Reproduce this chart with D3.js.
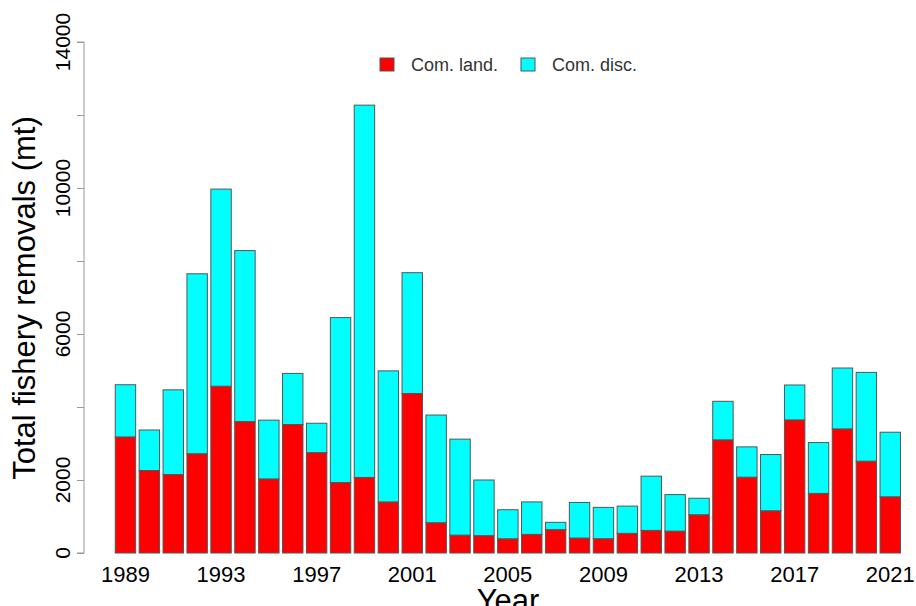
<!DOCTYPE html>
<html>
<head>
<meta charset="utf-8">
<script src="https://cdn.jsdelivr.net/npm/d3@7"></script>
<style>
  body { margin: 0; background: white; }
  text { font-family: "Liberation Sans", Arial, sans-serif; }
</style>
</head>
<body>
<div id="container"></div>
<script>
let w = 916;
let h = 606;

// years and the two series (mt)
let years = d3.range(1989, 2022);
let comLand = [3180, 2260, 2150, 2720, 4570, 3600, 2030, 3520, 2750, 1930, 2070,
  1400, 4370, 830, 490, 475, 390, 510, 640, 410, 392, 538, 620, 600, 1048,
  3100, 2078, 1157, 3646, 1632, 3400, 2516, 1540];
let comDisc = [1430, 1110, 2320, 4930, 5400, 4685, 1610, 1400, 805, 4520, 10200,
  3590, 3310, 2950, 2630, 1525, 795, 890, 200, 975, 858, 747, 1485, 1000, 452,
  1056, 830, 1541, 957, 1394, 1668, 2433, 1769];
let yTicks = [0, 2000, 4000, 6000, 8000, 10000, 12000, 14000];
let yLabels = [0, 2000, 6000, 10000, 14000];
let xLabels = [1989, 1993, 1997, 2001, 2005, 2009, 2013, 2017, 2021];
let seriesNames = ["Com. land.", "Com. disc."];
let seriesColors = ["#ff0000", "#00ffff"];

let rows = years.map(function(y, i){
  return { year: y, land: comLand[i], disc: comDisc[i] };
});

let viz = d3.select("#container").append("svg")
  .attr("width", w)
  .attr("height", h)
  .style("display", "block");

let xScale = d3.scaleBand()
  .domain(years)
  .range([113.5, 902.2])
  .paddingInner(0.146)
  .paddingOuter(0.073);

let yScale = d3.scaleLinear().domain([0, 14000]).range([553, 42]);

let stacked = d3.stack().keys(["land", "disc"])(rows);

viz.selectAll(".layer").data(stacked)
  .enter().append("g")
    .attr("class", "layer")
    .attr("fill", function(d, i){ return seriesColors[i]; })
  .selectAll("rect").data(function(d){ return d; })
  .enter().append("rect")
    .attr("x", function(d){ return xScale(d.data.year); })
    .attr("y", function(d){ return yScale(d[1]); })
    .attr("width", xScale.bandwidth())
    .attr("height", function(d){ return yScale(d[0]) - yScale(d[1]); })
    .attr("stroke", "#555")
    .attr("stroke-width", 1);

// y axis
let yAxis = d3.axisLeft(yScale)
  .tickValues(yTicks)
  .tickSize(7)
  .tickFormat("");

let yg = viz.append("g")
  .attr("transform", "translate(84,0)")
  .call(yAxis);
yg.select(".domain").attr("stroke", "#999").attr("d", "M-7," + yScale(0) + "H0V" + yScale(14000) + "H-7");
yg.selectAll(".tick line").attr("stroke", "#999");

viz.selectAll(".ylab").data(yLabels)
  .enter().append("text")
    .attr("class", "ylab")
    .attr("transform", function(d){ return "translate(70," + yScale(d) + ") rotate(-90)"; })
    .attr("text-anchor", "middle")
    .attr("font-size", 21)
    .text(function(d){ return d; });

// x labels
viz.selectAll(".xlab").data(xLabels)
  .enter().append("text")
    .attr("class", "xlab")
    .attr("x", function(d){ return xScale(d) + xScale.bandwidth() / 2; })
    .attr("y", 582)
    .attr("text-anchor", "middle")
    .attr("font-size", 22)
    .text(function(d){ return d; });

// axis titles
viz.append("text")
  .attr("transform", "translate(35,298) rotate(-90)")
  .attr("text-anchor", "middle")
  .attr("font-size", 31)
  .text("Total fishery removals (mt)");

viz.append("text")
  .attr("x", 508)
  .attr("y", 611)
  .attr("text-anchor", "middle")
  .attr("font-size", 31)
  .text("Year");

// legend
let legendX = [380, 521];
let legend = viz.selectAll(".legend").data(seriesNames)
  .enter().append("g")
    .attr("class", "legend")
    .attr("transform", function(d, i){ return "translate(" + legendX[i] + ",58)"; });

legend.append("rect")
  .attr("width", 14)
  .attr("height", 13)
  .attr("fill", function(d, i){ return seriesColors[i]; })
  .attr("stroke", "#555");

legend.append("text")
  .attr("x", 31)
  .attr("y", 13)
  .attr("font-size", 18)
  .attr("fill", "#333")
  .text(function(d){ return d; });
</script>
</body>
</html>
